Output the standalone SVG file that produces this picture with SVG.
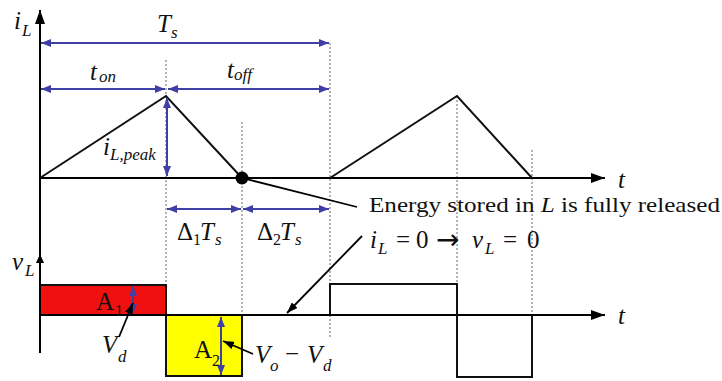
<svg xmlns="http://www.w3.org/2000/svg" width="722" height="381" viewBox="0 0 722 381">
<style>
.ax{stroke:#000;stroke-width:2;fill:none}
.wf{stroke:#111;stroke-width:2;fill:none}
.dash{stroke:#9a9a9a;stroke-width:1.5;stroke-dasharray:2 2;fill:none}
.dim{stroke:#3f3fa6;stroke-width:2;fill:none;marker-start:url(#ba);marker-end:url(#ba)}
.ptr{stroke:#000;stroke-width:1.8;fill:none}
text{font-family:"Liberation Serif","Times New Roman",serif;fill:#111}
.m{font-style:italic;font-size:25px}
.s{font-style:italic;font-size:17px}
.u{font-size:25px}
.us{font-size:16px}
.arr{font-family:"DejaVu Sans",sans-serif;font-size:28px}
</style>
<defs>
<marker id="ba" markerUnits="userSpaceOnUse" markerWidth="10" markerHeight="8" refX="10" refY="4" orient="auto-start-reverse"><path d="M0,0 L10,4 L0,8 z" fill="#3f3fa6"/></marker>
<marker id="ka" markerUnits="userSpaceOnUse" markerWidth="14" markerHeight="10" refX="14" refY="5" orient="auto"><path d="M0,0 L14,5 L0,10 z" fill="#000"/></marker>
<marker id="pa" markerUnits="userSpaceOnUse" markerWidth="11" markerHeight="8" refX="11" refY="4" orient="auto"><path d="M0,0 L11,4 L0,8 z" fill="#000"/></marker>
</defs>

<g id="guides">
<line class="dash" x1="166" y1="60" x2="166" y2="315"/>
<line class="dash" x1="242" y1="122" x2="242" y2="315"/>
<line class="dash" x1="330" y1="43" x2="330" y2="337"/>
<line class="dash" x1="457" y1="96" x2="457" y2="284"/>
<line class="dash" x1="532" y1="150" x2="532" y2="315"/>
</g>

<g id="areas">
<rect id="A1-area" x="40" y="285" width="126" height="30" fill="#f01010" stroke="#111" stroke-width="2"/>
<rect id="A2-area" x="166" y="315" width="76" height="61" fill="#ffff00" stroke="#111" stroke-width="2"/>
</g>

<g id="axes">
<line class="ax" x1="40" y1="353" x2="40" y2="10" marker-end="url(#ka)"/>
<path d="M40,254 L44,263 L36,263 z" fill="#000"/>
<line class="ax" x1="40" y1="178" x2="605" y2="178" marker-end="url(#ka)"/>
<line class="ax" x1="40" y1="315" x2="605" y2="315" marker-end="url(#ka)"/>
</g>

<g id="waveforms">
<polyline class="wf" points="40,178 166,96 242,178"/>
<polyline class="wf" points="330,178 457,96 532,178"/>
<polyline class="wf" points="330,315 330,284 457,284 457,377 532,377 532,315" stroke="#333"/>
<circle cx="242" cy="178" r="6.5" fill="#000"/>
</g>

<g id="connectors">
<line class="dim" x1="41" y1="43" x2="329" y2="43"/>
<line class="dim" x1="41" y1="89" x2="165" y2="89"/>
<line class="dim" x1="168" y1="89" x2="329" y2="89"/>
<line class="dim" x1="167" y1="98" x2="167" y2="176"/>
<line class="dim" x1="167" y1="209" x2="241" y2="209"/>
<line class="dim" x1="243" y1="209" x2="329" y2="209"/>
<line class="dim" x1="133" y1="286" x2="133" y2="314"/>
<line class="dim" x1="221" y1="317" x2="221" y2="375"/>
<line class="ptr" x1="242" y1="178" x2="357" y2="207"/>
<line class="ptr" x1="362" y1="236" x2="287" y2="313" marker-end="url(#pa)"/>
<line class="ptr" x1="119" y1="337" x2="133" y2="303" marker-end="url(#pa)"/>
<line class="ptr" x1="253" y1="354" x2="223" y2="341" marker-end="url(#pa)"/>
</g>

<g id="labels">
<text class="m" x="14" y="29">i</text><text class="s" x="22" y="36">L</text>
<text class="m" x="157" y="32">T</text><text class="s" x="171" y="38">s</text>
<text class="m" x="90" y="80">t</text><text class="s" x="99" y="82">on</text>
<text class="m" x="227" y="78">t</text><text class="s" x="234" y="80">off</text>
<text class="m" x="103" y="155">i</text><text class="s" x="110" y="160">L,peak</text>
<text class="m" x="618" y="188">t</text>
<text class="m" x="618" y="324">t</text>
<text class="m" x="12" y="270">v</text><text class="s" x="25" y="276">L</text>
<text class="u" x="177" y="240">Δ</text><text class="us" x="193" y="245">1</text><text class="m" x="200" y="240">T</text><text class="s" x="215" y="245">s</text>
<text class="u" x="257" y="240">Δ</text><text class="us" x="273" y="245">2</text><text class="m" x="280" y="240">T</text><text class="s" x="295" y="245">s</text>
<text x="369" y="212" font-size="22" textLength="351" lengthAdjust="spacingAndGlyphs">Energy stored in <tspan font-style="italic">L</tspan> is fully released</text>
<text class="m" x="370" y="248">i</text><text class="s" x="378" y="254">L</text>
<text class="u" x="396" y="248">=</text><text class="u" x="416" y="248">0</text><text class="arr" x="436" y="249">→</text>
<text class="m" x="472" y="248">v</text><text class="s" x="485" y="254">L</text>
<text class="u" x="503" y="248">=</text><text class="u" x="527" y="248">0</text>
<text class="u" x="96" y="310" font-size="20">A</text><text class="us" x="115" y="316" font-size="14">1</text>
<text class="u" x="194" y="358" font-size="20">A</text><text class="us" x="212" y="366" font-size="14">2</text>
<text class="m" x="102" y="353">V</text><text class="s" x="118" y="362">d</text>
<text class="m" x="255" y="363">V</text><text class="s" x="270" y="371">o</text>
<text class="u" x="285" y="362">−</text>
<text class="m" x="307" y="363">V</text><text class="s" x="323" y="371">d</text>
</g>
</svg>
